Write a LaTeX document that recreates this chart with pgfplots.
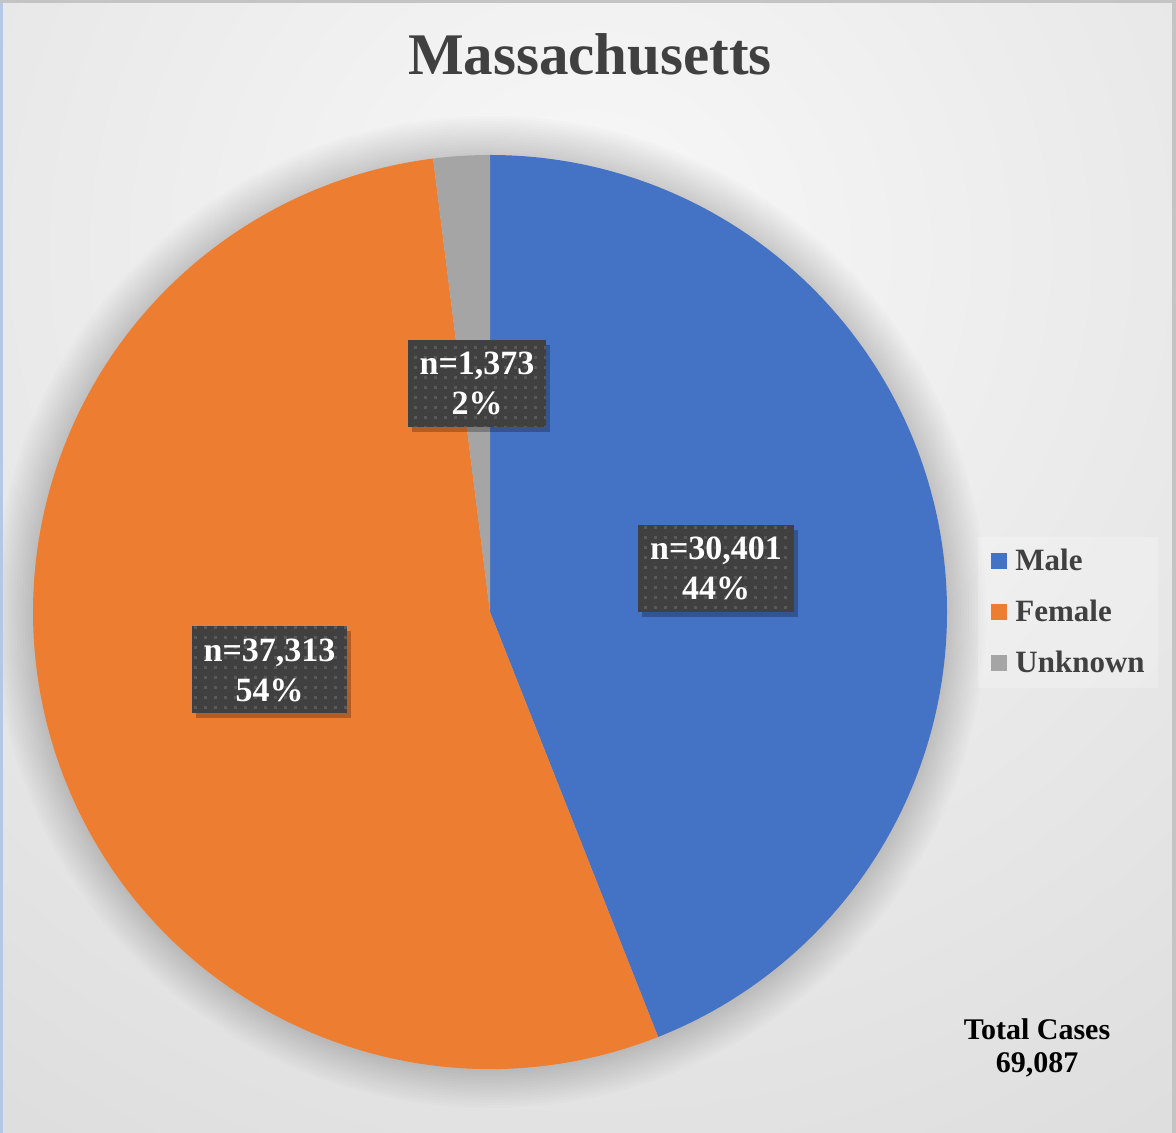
\documentclass[border=0pt]{standalone}
\usepackage{pgfplots}
\pgfplotsset{compat=1.18}
\usepackage{pgfplotstable}
\usepackage{fontspec}
\setmainfont{Liberation Serif}
\usetikzlibrary{shadows,patterns}

\definecolor{male}{HTML}{4472C4}
\definecolor{female}{HTML}{ED7D31}
\definecolor{unknown}{HTML}{A5A5A5}
\definecolor{titlec}{HTML}{404040}
\definecolor{lblbg}{HTML}{404040}
\definecolor{dotc}{HTML}{5A5A5A}
\definecolor{bgin}{HTML}{F8F8F8}
\definecolor{bgout}{HTML}{C3C3C3}
\definecolor{leftstrip}{HTML}{B4C7E7}
\definecolor{framec}{HTML}{C4C4C4}

\pgfdeclareradialshading{bgshade}{\pgfpoint{0bp}{0bp}}{color(0bp)=(bgin); color(50bp)=(bgout)}
\pgfdeclarepatternformonly{dotgrid}{\pgfpoint{-1pt}{-1pt}}{\pgfpoint{6pt}{6pt}}{\pgfpoint{5pt}{5pt}}{\pgfpathrectangle{\pgfpoint{1.75pt}{1.75pt}}{\pgfpoint{1.5pt}{1.5pt}}\pgfusepath{fill}}

\pgfplotstableread{
sex cases
Male 30401
Female 37313
Unknown 1373
}\sextable
\pgfplotstablegetelem{0}{cases}\of\sextable \let\nmale\pgfplotsretval
\pgfplotstablegetelem{1}{cases}\of\sextable \let\nfemale\pgfplotsretval
\pgfplotstablegetelem{2}{cases}\of\sextable \let\nunknown\pgfplotsretval
\edef\ntotal{\fpeval{\nmale+\nfemale+\nunknown}}
\edef\angA{90}
\edef\angB{\fpeval{90-360*\nmale/\ntotal}}
\edef\angC{\fpeval{\angB-360*\nfemale/\ntotal}}
\edef\angD{\fpeval{\angC-360*\nunknown/\ntotal}}

\tikzset{
  lbl/.style={fill=lblbg, text=white, font=\fontsize{17}{20}\selectfont\bfseries,
    align=center, inner sep=0pt, minimum height=43.5pt,
    drop shadow={shadow xshift=2pt, shadow yshift=-2.5pt, opacity=0.25, fill=black},
    postaction={pattern=dotgrid, pattern color=dotc}},
  legtext/.style={anchor=base west, inner sep=0pt, text=titlec, font=\fontsize{15.5}{18}\selectfont\bfseries}
}

\begin{document}
\begin{tikzpicture}
\begin{axis}[
  scale only axis, width=588pt, height=566.5pt,
  xmin=0, xmax=1176, ymin=0, ymax=1133,
  hide axis, clip=false,
]
% background
\begin{scope}
  \clip (axis cs:0,0) rectangle (axis cs:1176,1133);
  \shade[shading=bgshade] (axis cs:590,883) circle (531pt);
  % soft shadow around pie
  \pgfplotsinvokeforeach{1,...,14}{
    \fill[black, opacity=0.01] (axis cs:490,521) circle ({228.5pt+#1*1.4pt});
  }
  \fill[leftstrip] (axis cs:0,0) rectangle (axis cs:3,1133);
  \fill[framec] (axis cs:0,1130) rectangle (axis cs:1176,1133);
  \fill[framec] (axis cs:1172,0) rectangle (axis cs:1176,1133);
\end{scope}
% pie wedges
\fill[male] (axis cs:490,521) -- ++(\angA:228.5pt) arc[start angle=\angA, end angle=\angB, radius=228.5pt] -- cycle;
\fill[female] (axis cs:490,521) -- ++(\angB:228.5pt) arc[start angle=\angB, end angle=\angC, radius=228.5pt] -- cycle;
\fill[unknown] (axis cs:490,521) -- ++(\angC:228.5pt) arc[start angle=\angC, end angle=\angD, radius=228.5pt] -- cycle;
% data labels
\node[lbl, minimum width=69pt] at (axis cs:477,749.5) {n=1,373\\2\%};
\node[lbl, minimum width=78pt] at (axis cs:716,564.5) {n=30,401\\44\%};
\node[lbl, minimum width=77.5pt] at (axis cs:269.5,463) {n=37,313\\54\%};
% title
\node[anchor=base, text=titlec, font=\fontsize{29.5}{34}\selectfont\bfseries] at (axis cs:590,1058) {Massachusetts};
% total
\node[anchor=base, align=center, font=\fontsize{15}{16.5}\selectfont\bfseries] at (axis cs:1037,60) {Total Cases\\69,087};
% legend
\fill[white, opacity=0.22] (axis cs:978,445) rectangle (axis cs:1158,596);
\fill[male] (axis cs:991,564) rectangle (axis cs:1007,580);
\fill[female] (axis cs:991,513) rectangle (axis cs:1007,529);
\fill[unknown] (axis cs:991,462) rectangle (axis cs:1007,478);
\node[legtext] at (axis cs:1015,562) {Male};
\node[legtext] at (axis cs:1015,511) {Female};
\node[legtext] at (axis cs:1015,460) {Unknown};
\end{axis}
\end{tikzpicture}
\end{document}
